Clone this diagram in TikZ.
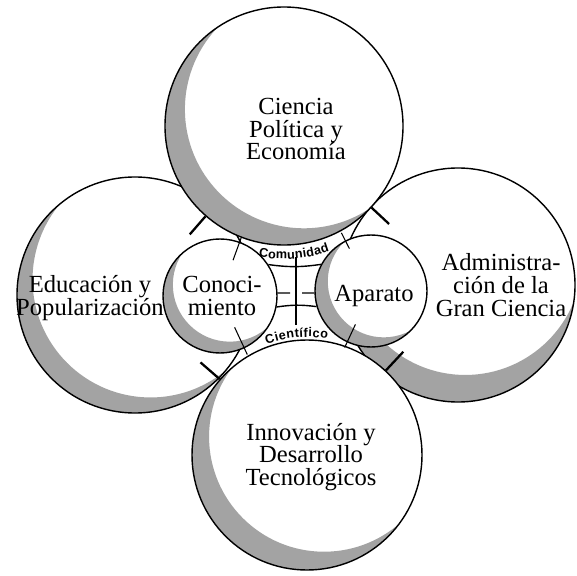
\documentclass[tikz,border=0pt]{standalone}
\usepackage{fontspec}
\setmainfont{Liberation Serif}
\newfontfamily\etiqueta{Liberation Sans}
\usetikzlibrary{calc,decorations.text}
\newcommand{\apretado}{\fontsize{14}{13}\selectfont\lineskiplimit-20pt\relax}

\tikzset{
  sombra/.style={fill=black!36},
  bola/.style n args={3}{circle, draw, line width=0.8pt, fill=white, inner sep=0pt,
    minimum size=2*#1*0.02cm,
    path picture={\fill[sombra, even odd rule] (path picture bounding box.center)
      circle[radius=#1] ++(#2:#3) circle[radius=#1];}},
  rotulo/.style={align=center, inner sep=0pt, font=\apretado},
  barra/.style={line width=1.3pt},
  linea/.style={line width=0.8pt},
  marca/.style={line width=0.6pt},
  curvo/.style={decorate, decoration={text along path, text align=fit to path,
    text={|\etiqueta\bfseries\fontsize{7.2}{8}\selectfont|#1}}}
}

\begin{document}
\begin{tikzpicture}[x=0.02cm, y=0.02cm]
  \useasboundingbox (0,0) rectangle (577,575);

  % circulos de atras
  \node[bola={118}{45}{22}] (edu) at (135,280) {};
  \node[bola={117}{75}{28}] (adm) at (458,290) {};
  % circulos de adelante
  \node[bola={119}{40}{26}] (pol) at (284,449) {};
  \node[bola={115}{47}{25}] (inn) at (307,120) {};
  % circulos internos
  \node[bola={57}{49}{15}] (con) at (220,279) {};
  \node[bola={56}{37}{16}] (apa) at (371,284) {};

  % comunidad cientifica
  \coordinate (vtop) at (296,318);
  \coordinate (vbot) at (296,250);
  \coordinate (mizq) at (290,282);
  \coordinate (mder) at (302,282);
  \draw[linea] (con.33) to[bend right=8] (apa.152);
  \draw[linea] (con.-11) to[bend left=8] (apa.196);
  \draw[linea] (vtop) -- (vbot);
  \draw[linea] (con.3) -- (mizq);
  \draw[linea] (apa.182) -- (mder);
  \path[curvo=Comunidad] ($(pol.center)+(-101:133)$) arc[start angle=-101, end angle=-70, radius=133];
  \path[curvo=Científico] ($(inn.center)+(110:118)$) arc[start angle=110, end angle=80, radius=118];

  % barras
  \draw[barra] (pol.229) -- ($(pol.center)!1.2!(pol.229)$);
  \draw[barra] (pol.317) -- ($(pol.center)!1.2!(pol.317)$);
  \draw[barra] (inn.139) -- ($(inn.center)!1.22!(inn.139)$);
  \draw[barra] (inn.47) -- ($(inn.center)!1.22!(inn.47)$);

  % marcas chicas
  \draw[marca] ($(con.center)!0.66!(con.70)$) -- ($(con.center)!1.08!(con.70)$);
  \draw[marca] ($(con.center)!0.6!(con.-65)$) -- ($(con.center)!1.12!(con.-65)$);
  \draw[marca] ($(apa.center)!0.84!(apa.117)$) -- ($(apa.center)!1.15!(apa.117)$);
  \draw[marca] ($(apa.center)!0.65!(apa.245)$) -- ($(apa.center)!1.1!(apa.245)$);

  % textos
  \node[rotulo] (tpol) at (296,446) {Ciencia\\Política y\\Economía};
  \node[rotulo] (tedu) at (90,277) {Educación y\\Popularización};
  \node[rotulo] (tadm) at (501,290) {Administra-\\ción de la\\Gran Ciencia};
  \node[rotulo] (tinn) at (311,118) {Innovación y\\Desarrollo\\Tecnológicos};
  \node[rotulo] (tcon) at (222,279) {Conoci-\\miento};
  \node[rotulo] (tapa) at (374,279) {Aparato};
\end{tikzpicture}
\end{document}
